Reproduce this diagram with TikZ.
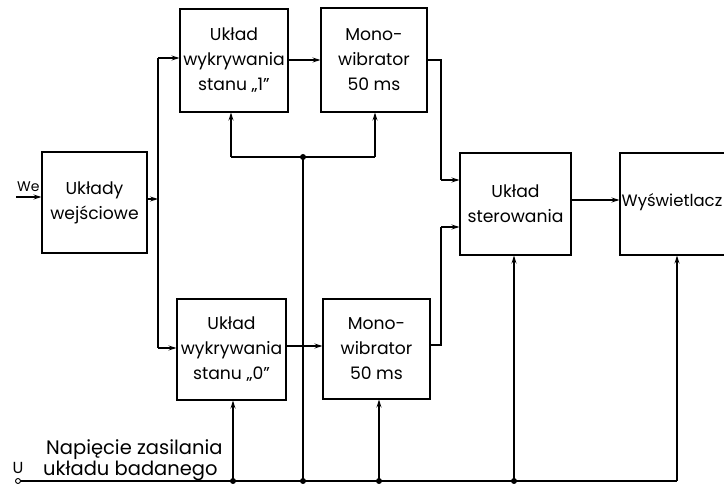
\documentclass[tikz,border=0pt]{standalone}
\usepackage{fontspec}
\setmainfont{Poppins}
\usetikzlibrary{arrows.meta}
\tikzset{
  blk/.style={draw, line width=1.1pt, inner sep=0pt, align=center, font=\fontsize{17.2}{25}\selectfont},
  conn/.style={line width=1.1pt, -{Stealth[length=8pt,width=5pt,inset=3pt]}},
  wire/.style={line width=1.1pt},
  jdot/.style={circle, fill=black, inner sep=0pt, minimum size=6pt},
  lbl/.style={inner sep=0pt, font=\fontsize{19.5}{21}\selectfont}
}
\begin{document}
\begin{tikzpicture}[x=1pt,y=-1pt]
\useasboundingbox (0,0) rectangle (724,486);
\clip (0,0) rectangle (724,486);
\fill[white] (0,0) rectangle (724,486);
% boxes
\node[blk, minimum width=105pt, minimum height=101pt] (we) at (94.5,202.5) {Układy\\wejściowe};
\node[blk, minimum width=108pt, minimum height=103pt] (d1) at (234,60.5) {Układ\\wykrywania\\stanu „1”};
\node[blk, minimum width=106pt, minimum height=104pt] (m1) at (374,60) {Mono-\\wibrator\\50 ms};
\node[blk, minimum width=109pt, minimum height=101pt] (d0) at (231.5,349.5) {Układ\\wykrywania\\stanu „0”};
\node[blk, minimum width=107pt, minimum height=100pt] (m0) at (376.5,349) {Mono-\\wibrator\\50 ms};
\node[blk, minimum width=111pt, minimum height=102pt] (st) at (515.5,204) {Układ\\sterowania};
\node[draw, line width=1.1pt, minimum width=130pt, minimum height=102pt, inner sep=0pt] (wy) at (685,204) {};
\node[lbl, anchor=west, font=\fontsize{16.5}{21}\selectfont] (wyt) at (621.5,202) {Wyświetlacz};
% input
\coordinate (win) at (16,197);
\node[lbl, anchor=south west, font=\fontsize{14}{15}\selectfont] (welbl) at (17,192) {We};
\draw[conn] (win) -- (we.west |- win);
% split
\coordinate (sp) at (158,199);
\coordinate (sptop) at (158,58);
\coordinate (spbot) at (158,348);
\draw[conn] (we.east |- sp) -- (sp);
\draw[wire] (sptop) -- (spbot);
\draw[conn] (sptop) -- (d1.west |- sptop);
\draw[conn] (spbot) -- (d0.west |- spbot);
% detectors to monos
\draw[conn] (d1.east |- 0,60) -- (m1.west |- 0,60);
\draw[conn] (d0.east |- 0,346) -- (m0.west |- 0,346);
% monos to sterowanie
\coordinate (k1) at (441,60);
\coordinate (k2) at (441,180);
\coordinate (k3) at (441,345);
\coordinate (k4) at (441,227);
\draw[wire] (m1.east |- k1) -- (k1) -- (k2);
\draw[conn] (k2) -- (st.west |- k2);
\draw[wire] (m0.east |- k3) -- (k3) -- (k4);
\draw[conn] (k4) -- (st.west |- k4);
% sterowanie to display
\draw[conn] (st.east |- 0,200) -- (wy.west |- 0,200);
% power bus
\coordinate (u) at (18,481);
\coordinate (b1) at (233,481);
\coordinate (b2) at (303,481);
\coordinate (b3) at (379,481);
\coordinate (b4) at (514,481);
\coordinate (b5) at (677,481);
\coordinate (t) at (303,157);
\coordinate (tl) at (231,157);
\coordinate (tr) at (375,157);
\draw[wire] (u) -- (b5);
\draw[conn] (b1) -- (d0.south -| b1);
\draw[conn] (b3) -- (m0.south -| b3);
\draw[conn] (b4) -- (st.south -| b4);
\draw[conn] (b5) -- (wy.south -| b5);
\draw[wire] (b2) -- (t);
\draw[wire] (tl) -- (tr);
\draw[conn] (tl) -- (d1.south -| tl);
\draw[conn] (tr) -- (m1.south -| tr);
\node[jdot] (j1) at (b1) {};
\node[jdot] (j2) at (b2) {};
\node[jdot] (j3) at (b3) {};
\node[jdot] (j4) at (b4) {};
\node[jdot] (j5) at (t) {};
\node[circle, draw, fill=white, line width=0.9pt, inner sep=0pt, minimum size=5pt] (uterm) at (u) {};
\node[lbl, anchor=south, font=\fontsize{16}{16}\selectfont] (ulbl) at (18,474) {U};
\node[lbl, anchor=west] (n1) at (46,450) {Napięcie zasilania};
\node[lbl, anchor=west] (n2) at (43,471) {układu badanego};
\end{tikzpicture}
\end{document}
